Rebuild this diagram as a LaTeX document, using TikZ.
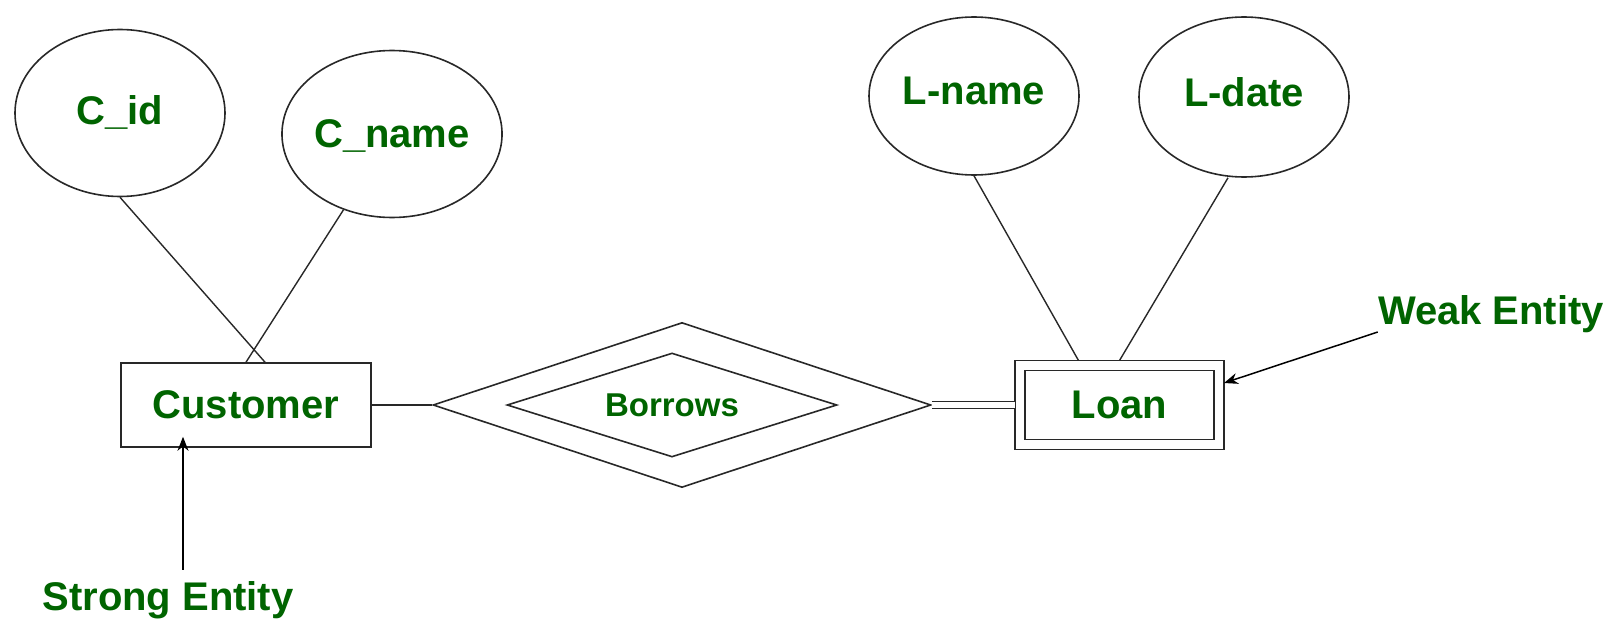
\documentclass[tikz,border=0pt]{standalone}
\usepackage{fontspec}
\setmainfont{Liberation Sans}
\usetikzlibrary{shapes.geometric,arrows.meta}
\definecolor{ergreen}{RGB}{0,100,0}
\definecolor{erline}{RGB}{40,40,40}
\begin{document}
\begin{tikzpicture}[x=1pt,y=-1pt,
  every node/.style={text=ergreen, font=\fontsize{40}{48}\selectfont\bfseries},
  attr/.style={ellipse, draw=erline, line width=1.6pt, inner sep=0pt, minimum width=210pt, text depth=0pt},
  entity/.style={rectangle, draw=erline, line width=1.6pt, inner sep=0pt, minimum width=250pt, minimum height=84pt},
  weakentity/.style={rectangle, draw=erline, line width=1.5pt, double, double distance=8.5pt, inner sep=0pt, outer sep=5pt, minimum width=199pt, minimum height=79pt},
  relbox/.style={diamond, draw=erline, line width=1.6pt, inner sep=0pt},
  conn/.style={draw=erline, line width=1.4pt},
  pointer/.style={draw=black, line width=1.5pt, -{Stealth[length=14pt,width=11pt]}},
  note/.style={inner sep=0pt, anchor=base}
]
\useasboundingbox (0,0) rectangle (1616,626);

% attributes
\node[attr, minimum height=167pt, text depth=5pt] (cid) at (120,113) {C\_id};
\node[attr, minimum height=167pt] (cname) at (392,134) {C\_name};
\node[attr, minimum height=158pt, text depth=10pt] (lname) at (974,96) {L-name};
\node[attr, minimum height=160pt, text depth=10pt] (ldate) at (1244,97) {L-date};

% entities
\node[entity] (cust) at (246,405) {Customer};
\node[weakentity] (loan) at (1119.5,405) {Loan};

% relationship
\node[relbox, minimum width=498pt, minimum height=165pt] (outer) at (682,405) {};
\node[relbox, aspect=3.17, minimum width=330pt, minimum height=104pt,
      font=\fontsize{33}{40}\selectfont\bfseries] (borrows) at (672,405) {Borrows};

% notes
\node[note] (strong) at (168,610) {Strong Entity};
\node[note] (weak) at (1491,324) {Weak Entity};

% connectors
\draw[conn] (cid.south) -- ([xshift=19pt]cust.north);
\draw[conn] (cname) -- (cust.north);
\draw[conn] (lname.south) -- ([xshift=-41pt]loan.north);
\draw[conn] ([xshift=-16pt]ldate.south) -- (loan.north);
\draw[conn] (cust.east) -- (outer.west);
\draw[draw=erline, line width=1.4pt, double, double distance=5.5pt] (outer.east) -- (loan.west);

% pointers
\draw[pointer] ([xshift=15pt,yshift=11pt]strong.north) -- ([xshift=15pt,yshift=11pt]strong.north |- cust.south);
\draw[pointer] ([yshift=-8pt]weak.base west) -- ([yshift=22pt]loan.east);
\end{tikzpicture}
\end{document}
